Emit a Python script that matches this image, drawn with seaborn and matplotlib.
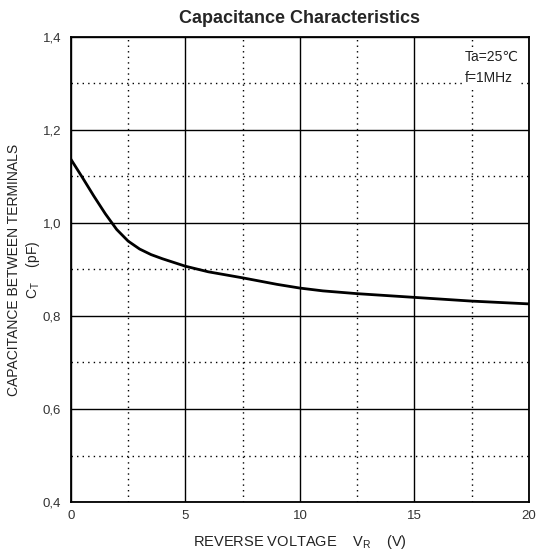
import matplotlib
matplotlib.use("Agg")
import matplotlib.pyplot as plt
import seaborn as sns
import pandas as pd
from matplotlib.ticker import MultipleLocator

voltage = [0, 0.5, 1, 1.5, 2, 2.5, 3, 3.5, 4, 5, 6, 7.5, 9, 10, 11, 12.5, 15, 17.5, 20]
capacitance = [1.137, 1.098, 1.058, 1.020, 0.986, 0.961, 0.944, 0.932, 0.923, 0.907, 0.895, 0.882, 0.868, 0.860, 0.854, 0.848, 0.840, 0.832, 0.826]
x_ticks = [0, 5, 10, 15, 20]
x_tick_labels = ["0", "5", "10", "15", "20"]
y_ticks = [0.4, 0.6, 0.8, 1.0, 1.2, 1.4]
y_tick_labels = ["0,4", "0,6", "0,8", "1,0", "1,2", "1,4"]

sns.set_theme(style="white")
plt.rcParams['font.family'] = ['Liberation Sans', 'DejaVu Sans']

df = pd.DataFrame({"V": voltage, "C": capacitance})

fig = plt.figure(figsize=(5.37, 5.57), dpi=100)
ax = fig.add_axes([0.132, 0.0987, 0.853, 0.835])

sns.lineplot(data=df, x="V", y="C", ax=ax, color="black", linewidth=2.0)

ax.set_xlim(0, 20)
ax.set_ylim(0.4, 1.4)
ax.set_xticks(x_ticks)
ax.set_xticklabels(x_tick_labels)
ax.set_yticks(y_ticks)
ax.set_yticklabels(y_tick_labels)
ax.xaxis.set_minor_locator(MultipleLocator(2.5))
ax.yaxis.set_minor_locator(MultipleLocator(0.1))
ax.grid(which="major", color="black", linewidth=1.0, linestyle="-")
ax.grid(which="minor", color="black", linewidth=1.0, linestyle=(0, (1, 3)))
ax.set_axisbelow(True)
ax.tick_params(which="both", length=0, labelsize=9.5, labelcolor="#333333")
ax.tick_params(axis="x", pad=6)
ax.tick_params(axis="y", pad=7)
for s in ax.spines.values():
    s.set_color("black")
    s.set_linewidth(1.3)

ax.set_xlabel(r"REVERSE VOLTAGE    V$_\mathregular{R}$    (V)", fontsize=10.5, color="#222222", labelpad=8)
ax.set_ylabel("CAPACITANCE BETWEEN TERMINALS\n" + r"C$_\mathregular{T}$    (pF)", fontsize=10, color="#222222", linespacing=1.3)
ax.yaxis.set_label_coords(-0.062, 0.5)
ax.set_title("Capacitance Characteristics", fontsize=13, fontweight="bold", pad=10)

ax.text(17.2, 1.334, "Ta=25℃\nf=1MHz", ha="left", va="center", fontsize=10, color="#222222", linespacing=1.6,
        bbox=dict(facecolor="white", edgecolor="none", pad=1))

fig.savefig("out.png", dpi=100)
